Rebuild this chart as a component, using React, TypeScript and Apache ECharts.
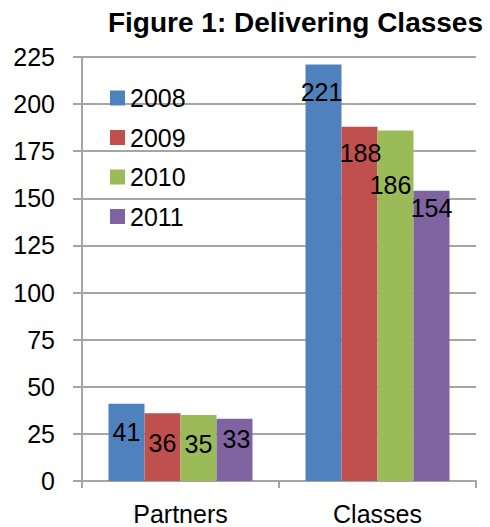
import React, { useEffect, useRef } from "react";
import * as echarts from "echarts";

const categories = ["Partners", "Classes"];
const seriesNames = ["2008", "2009", "2010", "2011"];
const values2008 = [41, 221];
const values2009 = [36, 188];
const values2010 = [35, 186];
const values2011 = [33, 154];
const yTicks = [0, 25, 50, 75, 100, 125, 150, 175, 200, 225];

const colors = ["#4F81BD", "#C0504D", "#9BBB59", "#8064A2"];
// label offsets (dx, dy) per series per category, to mimic the reference placement
const labelOffsets = [
  [[0, 11], [-2, 10]],
  [[0, 12], [1, 9]],
  [[0, 11], [-5, 37]],
  [[2, 3], [0, 0]],
];

const FONT = '"Liberation Sans", Arial, Helvetica, sans-serif';

export default function App() {
  const ref = useRef<HTMLDivElement>(null);
  useEffect(() => {
    if (!ref.current) return;
    const chart = echarts.init(ref.current, undefined, { renderer: "svg" });
    const all = [values2008, values2009, values2010, values2011];
    const gridColor = "#a5a5a5";
    chart.setOption({
      animation: false,
      textStyle: { fontFamily: FONT },
      title: {
        text: "Figure 1: Delivering Classes",
        right: 7,
        top: 8,
        padding: 0,
        textStyle: { fontFamily: FONT, fontSize: 28, fontWeight: "bold", color: "#000" },
      },
      legend: {
        orient: "vertical",
        left: 110,
        top: 85.5,
        padding: 0,
        itemWidth: 15,
        itemHeight: 15,
        itemGap: 14.5,
        icon: "rect",
        data: seriesNames,
        textStyle: { fontFamily: FONT, fontSize: 25, color: "#000", lineHeight: 25 },
      },
      grid: { left: 82, right: 14, top: 57, bottom: 46 },
      xAxis: {
        type: "category",
        data: categories,
        axisLine: { show: true, lineStyle: { color: gridColor, width: 2 } },
        axisTick: { show: true, length: 7, lineStyle: { color: gridColor, width: 2 } },
        axisLabel: { margin: 20, fontSize: 25, color: "#000", fontFamily: FONT },
      },
      yAxis: {
        type: "value",
        min: yTicks[0],
        max: yTicks[yTicks.length - 1],
        interval: 25,
        axisLine: { show: true, lineStyle: { color: gridColor, width: 2 } },
        axisTick: { show: true, length: 9, lineStyle: { color: gridColor, width: 2 } },
        splitLine: { show: true, lineStyle: { color: gridColor, width: 2 } },
        axisLabel: { margin: 27, fontSize: 25, color: "#000", fontFamily: FONT },
      },
      series: seriesNames.map((name, si) => ({
        name,
        type: "bar",
        barWidth: 36,
        barGap: "0%",
        itemStyle: { color: colors[si] },
        label: {
          show: true,
          position: "insideTop",
          fontSize: 25,
          color: "#000",
          fontFamily: FONT,
        },
        data: all[si].map((v, ci) => ({
          value: v,
          label: { offset: labelOffsets[si][ci] },
        })),
      })),
    });
    return () => chart.dispose();
  }, []);
  return (
    <div
      ref={ref}
      style={{ position: "absolute", left: 0, top: 0, width: 490, height: 527 }}
    />
  );
}
